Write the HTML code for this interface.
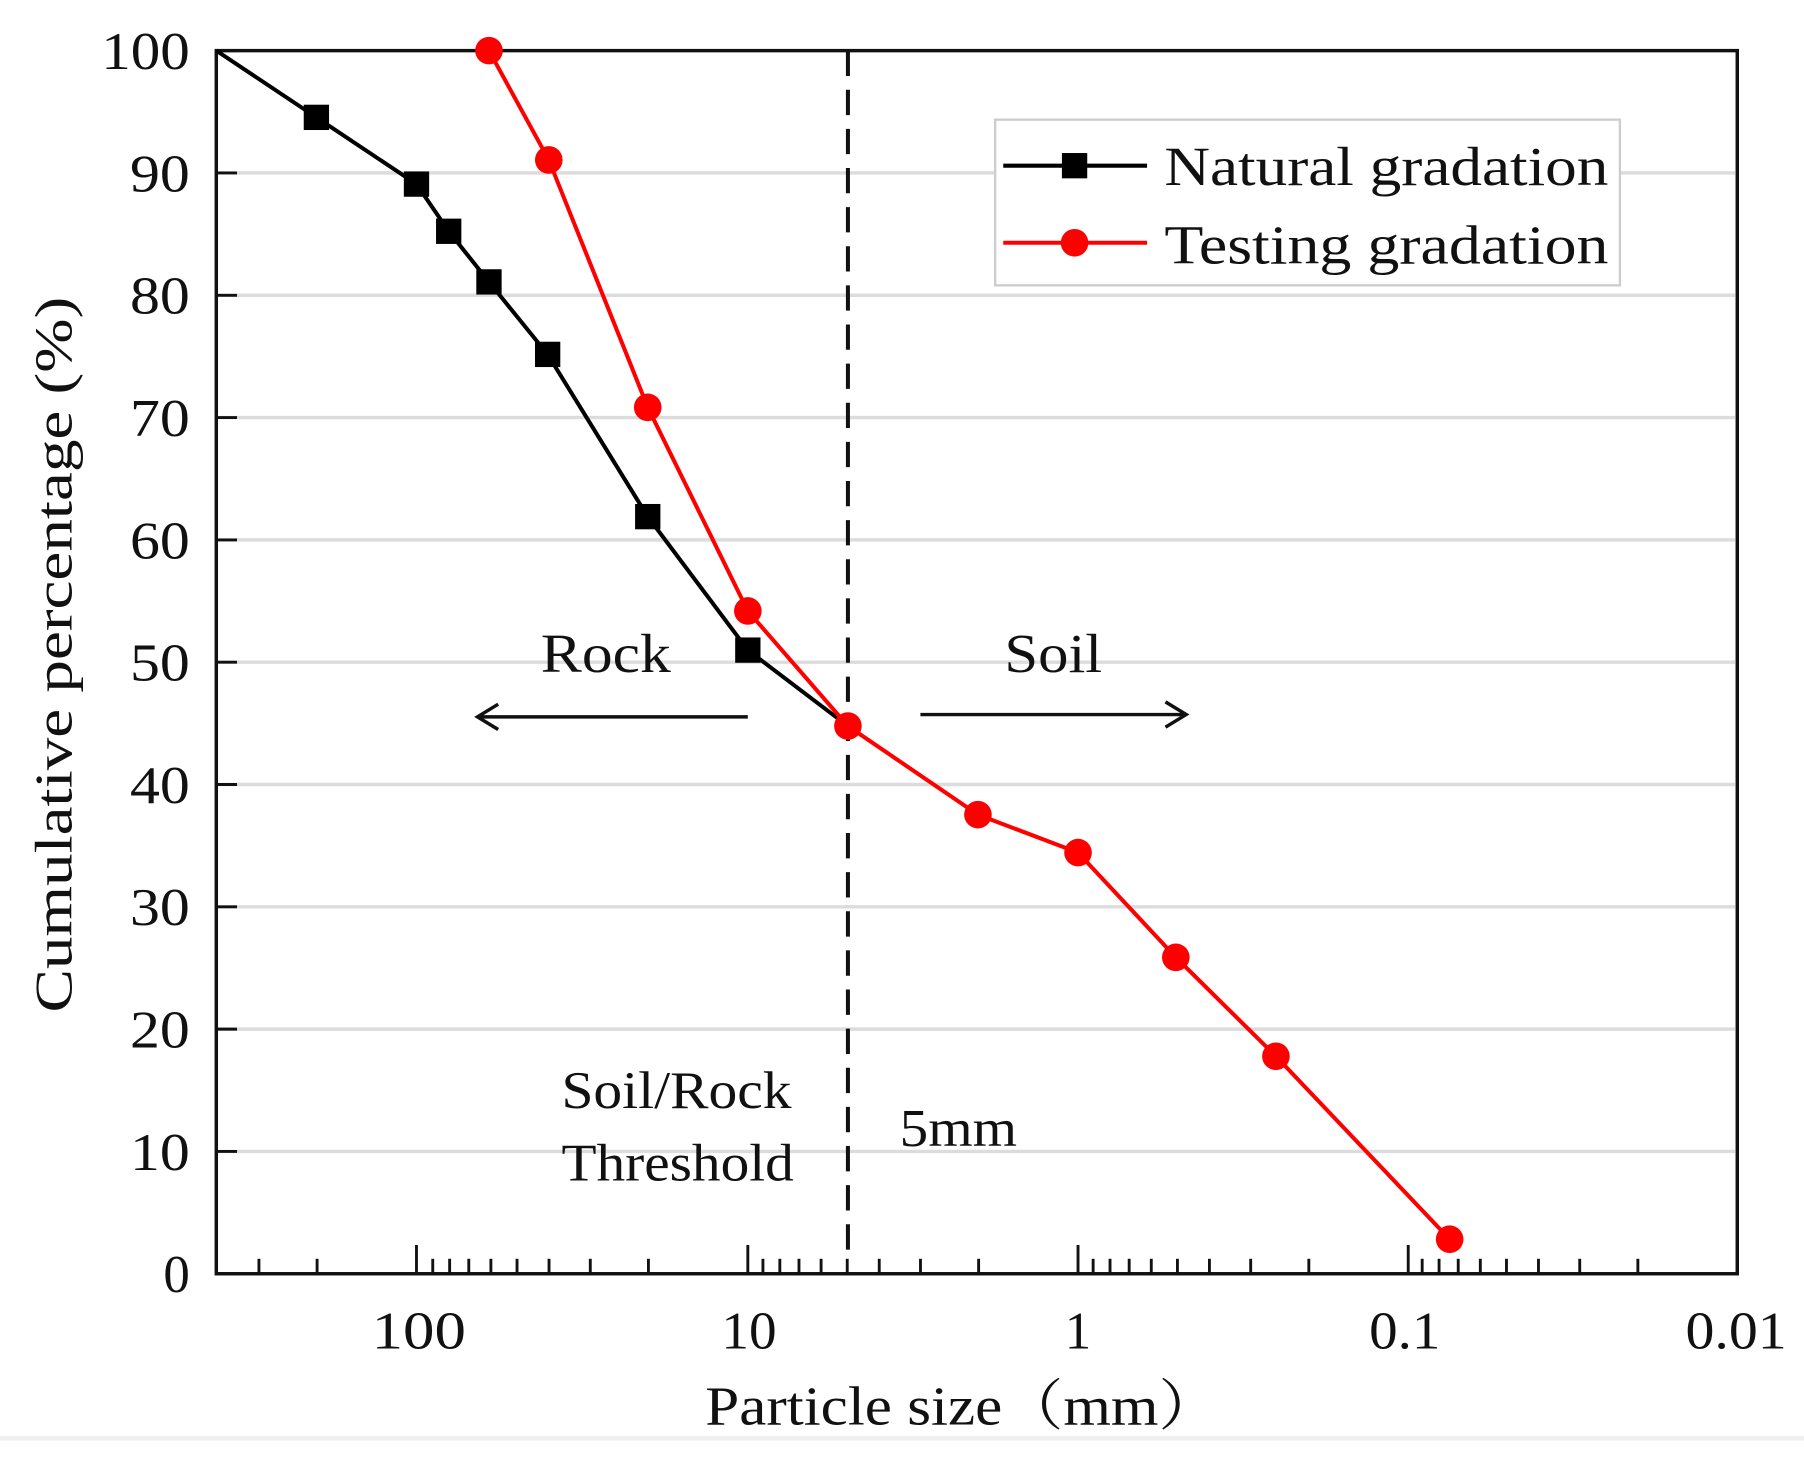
<!DOCTYPE html>
<html><head><meta charset="utf-8"><style>
html,body{margin:0;padding:0;background:#fff}
svg{display:block}
text{font-family:"Liberation Serif",serif;fill:#111}
</style></head><body>
<svg id="s" width="1804" height="1459" viewBox="0 0 1568 1268" preserveAspectRatio="none" xmlns="http://www.w3.org/2000/svg">
<rect x="0" y="0" width="1568" height="1268" fill="#fff"/>
<rect x="0" y="1248" width="1568" height="4" fill="#f0f0f0"/>
<g id="grid" stroke="#dcdcdc" stroke-width="3"></g>
<g id="ticks" stroke="#111" stroke-width="2.5"></g>
<rect x="188" y="44" width="1322" height="1063" fill="none" stroke="#111" stroke-width="3"/>
<line x1="737" y1="44" x2="737" y2="1090" stroke="#111" stroke-width="3.5" stroke-dasharray="22,12"/>
<polyline points="188,44 275,102 362,160 390,201 425,245 476,308 563,449 650,565 737,631" fill="none" stroke="#000" stroke-width="3.5"/>
<g id="bm" fill="#000"></g>
<polyline points="425,44 477,139 563,354 650,531 737,631 850,708 937,741 1022,832 1109,918 1260,1077" fill="none" stroke="#f00" stroke-width="3.5"/>
<g id="rm" fill="#f00"></g>
<g id="yl" font-size="46" text-anchor="end"></g>
<g font-size="46" text-anchor="middle" lengthAdjust="spacingAndGlyphs">
<text x="364" y="1172" textLength="82" lengthAdjust="spacingAndGlyphs">100</text><text x="651" y="1172" textLength="48" lengthAdjust="spacingAndGlyphs">10</text><text x="937" y="1172">1</text><text x="1221" y="1172" textLength="62" lengthAdjust="spacingAndGlyphs">0.1</text><text x="1509" y="1172" textLength="88" lengthAdjust="spacingAndGlyphs">0.01</text>
</g>
<text x="613" y="1238" font-size="48" textLength="447" lengthAdjust="spacingAndGlyphs" style='font-family:"Liberation Serif","Noto Serif CJK SC",serif'>Particle size（mm）</text>
<text transform="translate(62,880) rotate(-90)" font-size="46" textLength="622" lengthAdjust="spacingAndGlyphs">Cumulative percentage (%)</text>
<rect x="865" y="104" width="543" height="144" fill="#fff" stroke="#ccc" stroke-width="2"/>
<line x1="872" y1="144" x2="997" y2="144" stroke="#000" stroke-width="3.5"/>
<rect x="923" y="133" width="22" height="22" fill="#000"/>
<line x1="872" y1="211" x2="997" y2="211" stroke="#f00" stroke-width="3.5"/>
<circle cx="934" cy="211" r="12" fill="#f00"/>
<text x="1012" y="161" font-size="48" textLength="386" lengthAdjust="spacingAndGlyphs">Natural gradation</text>
<text x="1012" y="229" font-size="48" textLength="386" lengthAdjust="spacingAndGlyphs">Testing gradation</text>
<text x="470" y="584" font-size="48" textLength="113" lengthAdjust="spacingAndGlyphs">Rock</text>
<text x="873" y="584" font-size="48" textLength="85" lengthAdjust="spacingAndGlyphs">Soil</text>
<g stroke="#111" stroke-width="3" fill="none">
<line x1="650" y1="623" x2="415" y2="623"/><polyline points="433,612 415,623 433,634"/>
<line x1="800" y1="621" x2="1031" y2="621"/><polyline points="1013,610 1031,621 1013,632"/>
</g>
<text x="488" y="963" font-size="46" textLength="200" lengthAdjust="spacingAndGlyphs">Soil/Rock</text>
<text x="488" y="1026" font-size="46" textLength="202" lengthAdjust="spacingAndGlyphs">Threshold</text>
<text x="782" y="996" font-size="46" textLength="102" lengthAdjust="spacingAndGlyphs">5mm</text>
</svg>
<script>
var NS="http://www.w3.org/2000/svg";
function el(p,t,a){var e=document.createElementNS(NS,t);for(var k in a)e.setAttribute(k,a[k]);document.getElementById(p).appendChild(e);return e;}
for(var v=0;v<=100;v+=10){var y=1107-v*10.63;
 if(v>0&&v<100)el("grid","line",{x1:190,y1:y,x2:1508,y2:y});
 el("ticks","line",{x1:188,y1:y,x2:206,y2:y});
 var a={x:165,y:y+16};
 if(v>0){a.textLength=(v==100?77:52);a.lengthAdjust="spacingAndGlyphs";}
 var t=el("yl","text",a);t.textContent=v;}
var majors=[[100,362],[10,650],[1,937],[0.1,1224],[0.01,1510]];
majors.forEach(function(m){var x0=m[1];
 el("ticks","line",{x1:x0,y1:1107,x2:x0,y2:1082});
 for(var k=2;k<=9;k++){var x=x0-287*Math.log10(k);if(x>=190)el("ticks","line",{x1:x,y1:1107,x2:x,y2:1094});}});
[[275,102],[362,160],[390,201],[425,245],[476,308],[563,449],[650,565]].forEach(function(p){el("bm","rect",{x:p[0]-11,y:p[1]-11,width:22,height:22});});
[[425,44],[477,139],[563,354],[650,531],[737,631],[850,708],[937,741],[1022,832],[1109,918],[1260,1077]].forEach(function(p){el("rm","circle",{cx:p[0],cy:p[1],r:12});});
</script>
</body></html>
